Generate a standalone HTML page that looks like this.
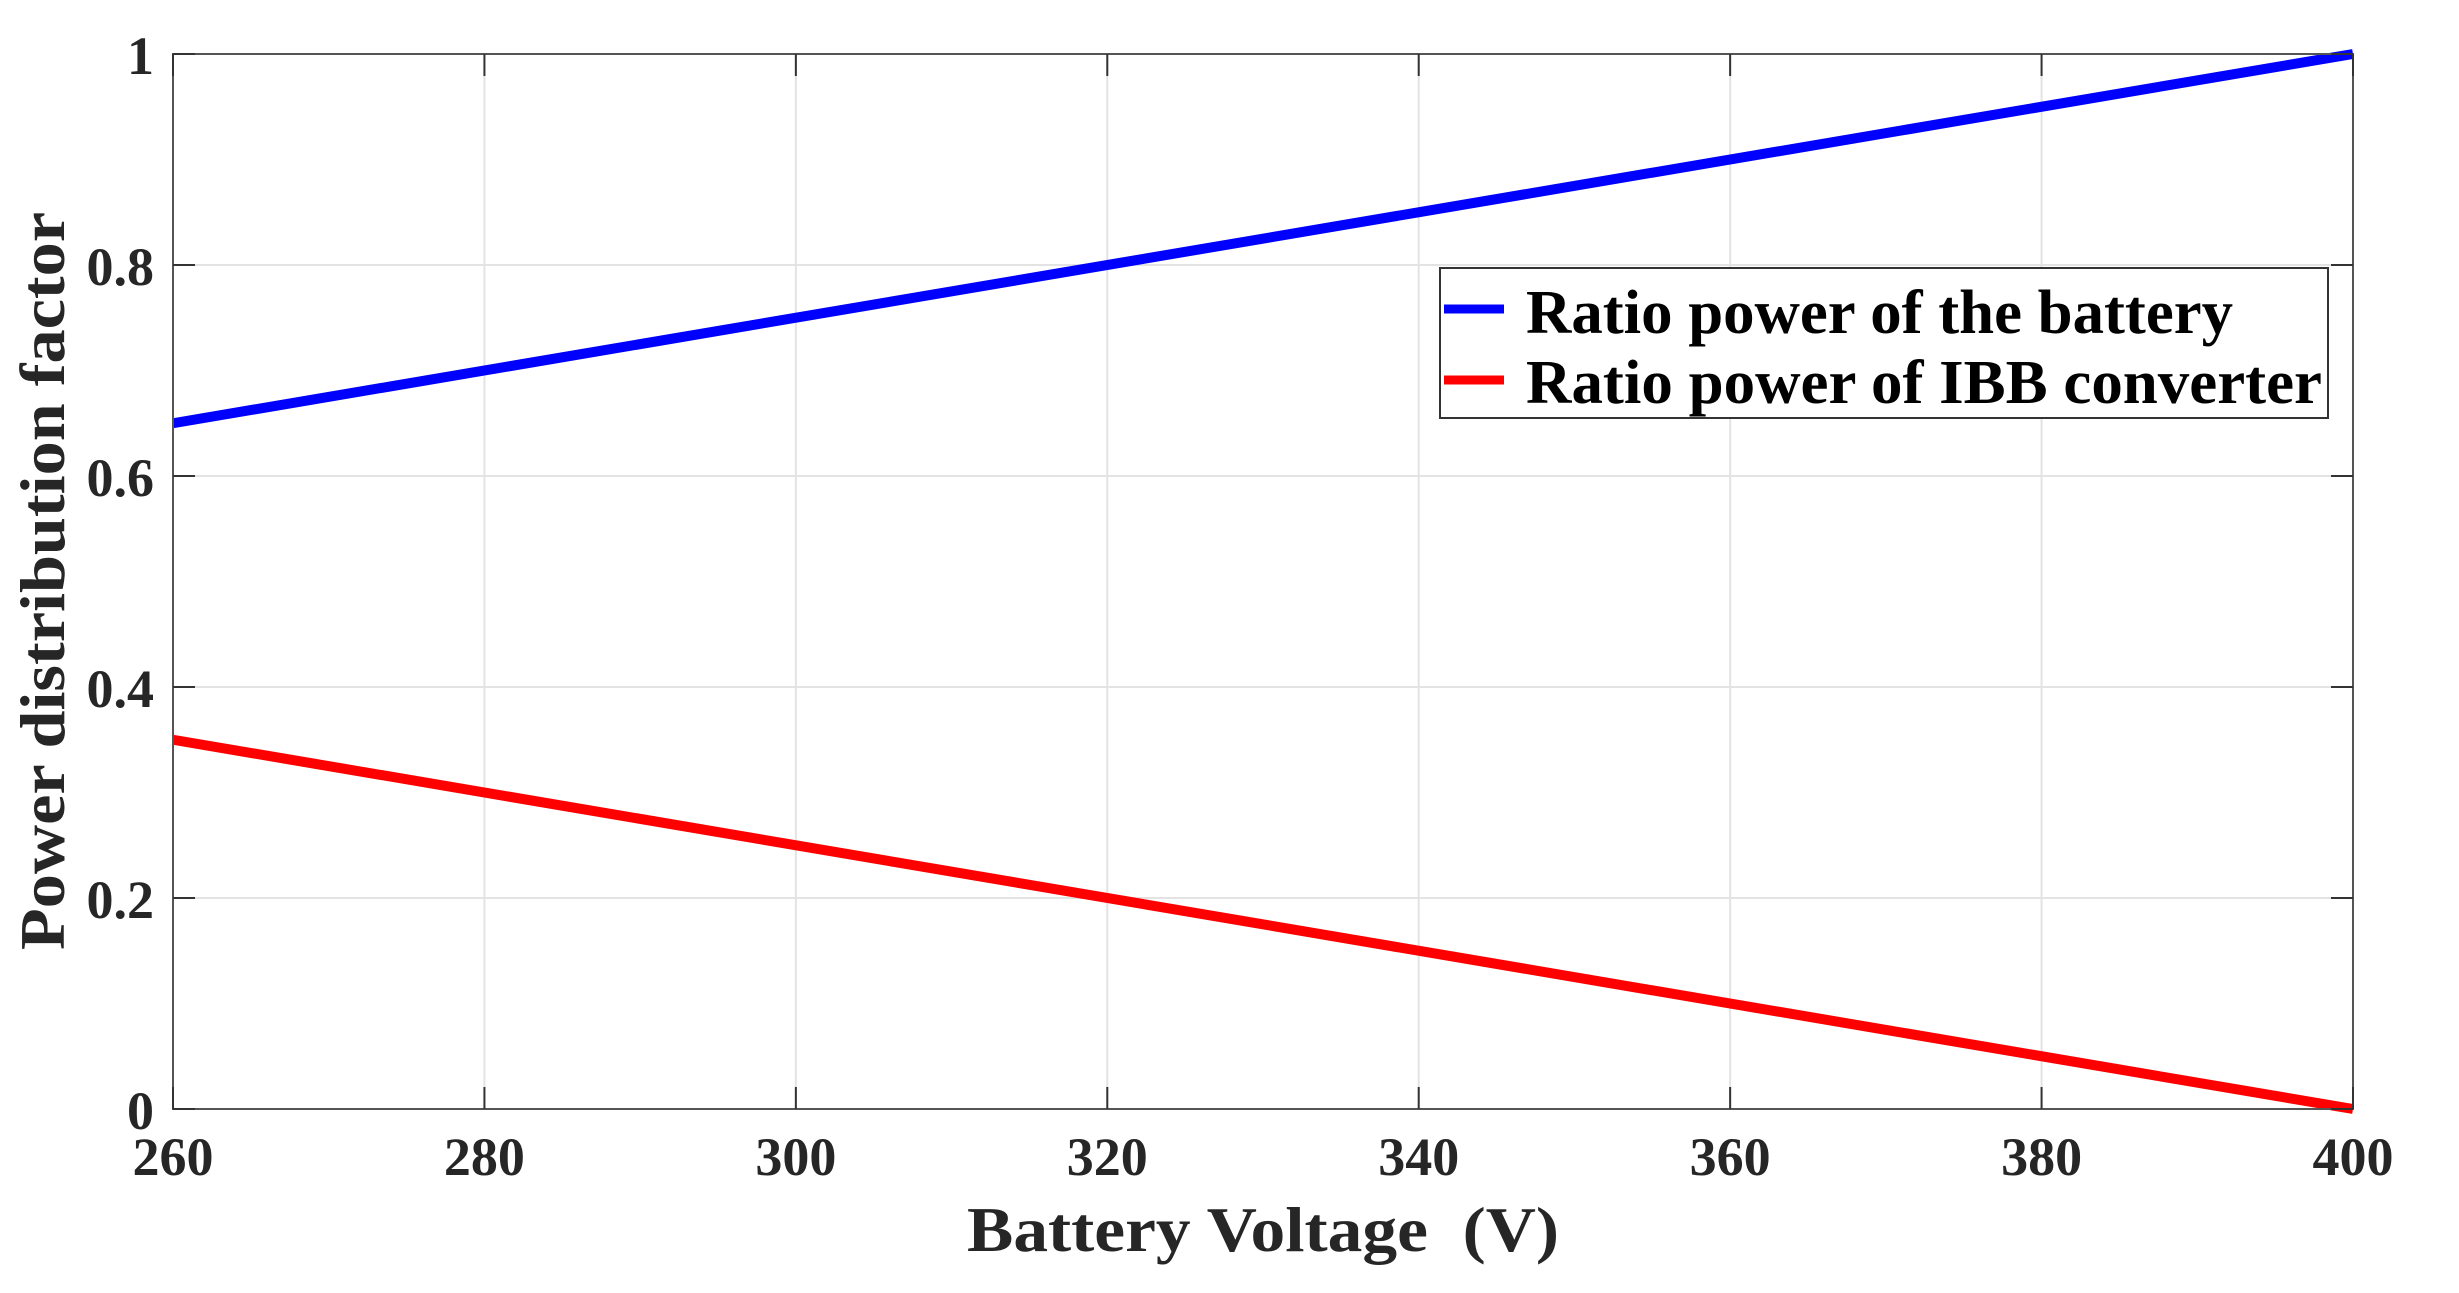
<!DOCTYPE html>
<html><head><meta charset="utf-8"><style>
body{margin:0;background:#fff;}
svg text{font-family:"Liberation Serif",serif;font-weight:bold;fill:#262626;}
</style></head><body>
<svg id="chart" width="2459" height="1288" viewBox="0 0 2459 1288" xmlns="http://www.w3.org/2000/svg">
<g id="grid"></g>
<g id="series"></g>
<rect x="173" y="54" width="2180" height="1055" fill="none" stroke="#555" stroke-width="2"/>
<g id="ticks"></g>
<text x="967" y="1251" font-size="64" textLength="592" lengthAdjust="spacingAndGlyphs" xml:space="preserve">Battery Voltage  (V)</text>
<text transform="translate(64,581) rotate(-90)" font-size="64" text-anchor="middle" textLength="738" lengthAdjust="spacingAndGlyphs">Power distribution factor</text>
<g>
<rect x="1440" y="268" width="888" height="150" fill="#fff" stroke="#333" stroke-width="2"/>
<line x1="1444" y1="309" x2="1504" y2="309" stroke="#0000ff" stroke-width="9"/>
<text x="1526" y="333" font-size="62" textLength="707" lengthAdjust="spacingAndGlyphs" style="fill:#000">Ratio power of the battery</text>
<line x1="1444" y1="380" x2="1504" y2="380" stroke="#ff0000" stroke-width="9"/>
<text x="1526" y="403" font-size="62" textLength="796" lengthAdjust="spacingAndGlyphs" style="fill:#000">Ratio power of IBB converter</text>
</g>
</svg>
<script>
const voltages = [260, 400];
const batteryRatio = [0.65, 1.0];
const ibbRatio = [0.35, 0.0];
const xTicks = [260, 280, 300, 320, 340, 360, 380, 400];
const yTicks = [0, 0.2, 0.4, 0.6, 0.8, 1];
const yTickLabels = ["0", "0.2", "0.4", "0.6", "0.8", "1"];

const L=173,R=2353,T=54,B=1109;
const xs=v=>L+(v-260)/(400-260)*(R-L);
const ys=v=>B-(v-0)/(1-0)*(B-T);
const NS="http://www.w3.org/2000/svg";
const grid=document.getElementById('grid'),ticks=document.getElementById('ticks'),series=document.getElementById('series');
function mk(tag,attrs,parent){const e=document.createElementNS(NS,tag);for(const k in attrs)e.setAttribute(k,attrs[k]);parent.appendChild(e);return e;}
xTicks.forEach(v=>{
  const x=xs(v);
  const g=mk('line',{x1:x,y1:T,x2:x,y2:B,stroke:'#e3e3e3','stroke-width':2},grid);
  
  
  const t1=mk('line',{x1:x,y1:B,x2:x,y2:B-22,stroke:'#333','stroke-width':2},ticks);
  
  
  const t2=mk('line',{x1:x,y1:T,x2:x,y2:T+22,stroke:'#333','stroke-width':2},ticks);
  
  
  const lb=mk('text',{x:x,y:1175,'font-size':54,'text-anchor':'middle'},ticks);
  lb.textContent=v;
  
  
});
yTicks.forEach((v,i)=>{
  const y=ys(v);
  const g=mk('line',{x1:L,y1:y,x2:R,y2:y,stroke:'#e3e3e3','stroke-width':2},grid);
  
  
  const t1=mk('line',{x1:L,y1:y,x2:L+22,y2:y,stroke:'#333','stroke-width':2},ticks);
  
  
  const t2=mk('line',{x1:R,y1:y,x2:R-22,y2:y,stroke:'#333','stroke-width':2},ticks);
  
  
  const lb=mk('text',{x:154,y:y+20,'font-size':54,'text-anchor':'end'},ticks);
  lb.textContent=yTickLabels[i];
  
  
});
function drawLine(vals,color,name){
  const pts=voltages.map((v,i)=>xs(v)+','+ys(vals[i])).join(' ');
  const p=mk('polyline',{points:pts,fill:'none',stroke:color,'stroke-width':10},series);
  
  
}
drawLine(batteryRatio,'#0000ff','battery-ratio-line');
drawLine(ibbRatio,'#ff0000','ibb-ratio-line');
</script>
</body></html>
